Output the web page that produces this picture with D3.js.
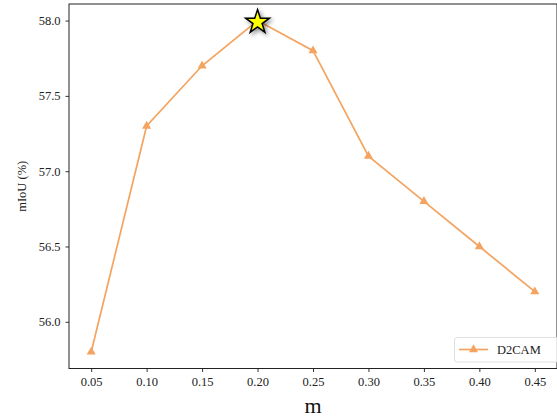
<!DOCTYPE html>
<html><head><meta charset="utf-8">
<script src="https://cdn.jsdelivr.net/npm/d3@7"></script>
<style>body{margin:0;background:#fff}svg{display:block}text{font-family:"Liberation Serif","Times New Roman",serif}</style>
</head><body>
<script>
const mValues = [0.05, 0.10, 0.15, 0.20, 0.25, 0.30, 0.35, 0.40, 0.45];
const mIoU = [55.8, 57.3, 57.7, 58.0, 57.8, 57.1, 56.8, 56.5, 56.2];
const xTicks = [0.05, 0.10, 0.15, 0.20, 0.25, 0.30, 0.35, 0.40, 0.45];
const yTicks = [56.0, 56.5, 57.0, 57.5, 58.0];
const seriesName = "D2CAM";
const bestIndex = 3;

const W = 557, H = 419;
const m = {left: 69, right: 557, top: 4, bottom: 368.5};
const color = "#f4a460";

const svg = d3.select("body").append("svg").attr("width", W).attr("height", H);
const defs = svg.append("defs");
const f = defs.append("filter").attr("id","sh").attr("x","-50%").attr("y","-50%").attr("width","200%").attr("height","200%");
f.append("feDropShadow").attr("dx",2).attr("dy",2).attr("stdDeviation",2).attr("flood-color","#000").attr("flood-opacity",0.45);

const x = d3.scaleLinear().domain([0.03, 0.47]).range([m.left, m.right]);
const y = d3.scaleLinear().domain([55.69, 58.11]).range([m.bottom, m.top]);

const xa = svg.append("g").attr("transform",`translate(0,${m.bottom})`)
  .call(d3.axisBottom(x).tickValues(xTicks).tickFormat(d3.format(".2f")).tickSizeOuter(0).tickSize(3.5).tickPadding(5));
const ya = svg.append("g").attr("transform",`translate(${m.left},0)`)
  .call(d3.axisLeft(y).tickValues(yTicks).tickFormat(d3.format(".1f")).tickSizeOuter(0).tickSize(3.5).tickPadding(5));
[xa, ya].forEach(g => {
  g.select(".domain").remove();
  g.selectAll("line").attr("stroke","#000").attr("stroke-width",0.8);
  g.selectAll("text").attr("font-size","12.5px").attr("fill","#222").style("font-family",'"Liberation Serif",serif');
});
svg.append("rect").attr("x",m.left).attr("y",m.top).attr("width",m.right-m.left).attr("height",m.bottom-m.top)
  .attr("fill","none").attr("stroke","#222").attr("stroke-width",1);

const line = d3.line().x((d,i)=>x(mValues[i])).y(d=>y(d));
svg.append("path").datum(mIoU).attr("d",line).attr("fill","none").attr("stroke",color).attr("stroke-width",1.7);

const tri = d3.symbol().type(d3.symbolTriangle).size(36);
svg.selectAll(".mk").data(mIoU).enter().append("path")
  .attr("transform",(d,i)=>`translate(${x(mValues[i])},${y(d)})`)
  .attr("d",tri).attr("fill",color);

const star = d3.symbol().type(d3.symbolStar).size(175);
svg.append("path").attr("transform",`translate(${x(mValues[bestIndex])},${y(mIoU[bestIndex])+1.5})`)
  .attr("d",star).attr("fill","#ffff00").attr("stroke","#000").attr("stroke-width",1.5).attr("filter","url(#sh)");

svg.append("text").attr("x",(m.left+m.right)/2).attr("y",413).attr("text-anchor","middle")
  .attr("font-size","22px").attr("fill","#111").text("m");
svg.append("text").attr("transform",`translate(26,${(m.top+m.bottom)/2}) rotate(-90)`).attr("text-anchor","middle")
  .attr("font-size","12.5px").attr("fill","#222").text("mIoU (%)");

const lg = svg.append("g");
lg.append("rect").attr("x",454.5).attr("y",337.5).attr("width",110).attr("height",24.5).attr("rx",2.5)
  .attr("fill","#fff").attr("fill-opacity",0.8).attr("stroke","#d8d8d8").attr("stroke-width",0.8);
lg.append("line").attr("x1",459).attr("x2",488).attr("y1",349.5).attr("y2",349.5).attr("stroke",color).attr("stroke-width",1.7);
lg.append("path").attr("transform","translate(473.5,349.5)").attr("d",tri).attr("fill",color);
lg.append("text").attr("x",497).attr("y",354).attr("font-size","12.5px").attr("fill","#222").text(seriesName);
</script>
</body></html>
